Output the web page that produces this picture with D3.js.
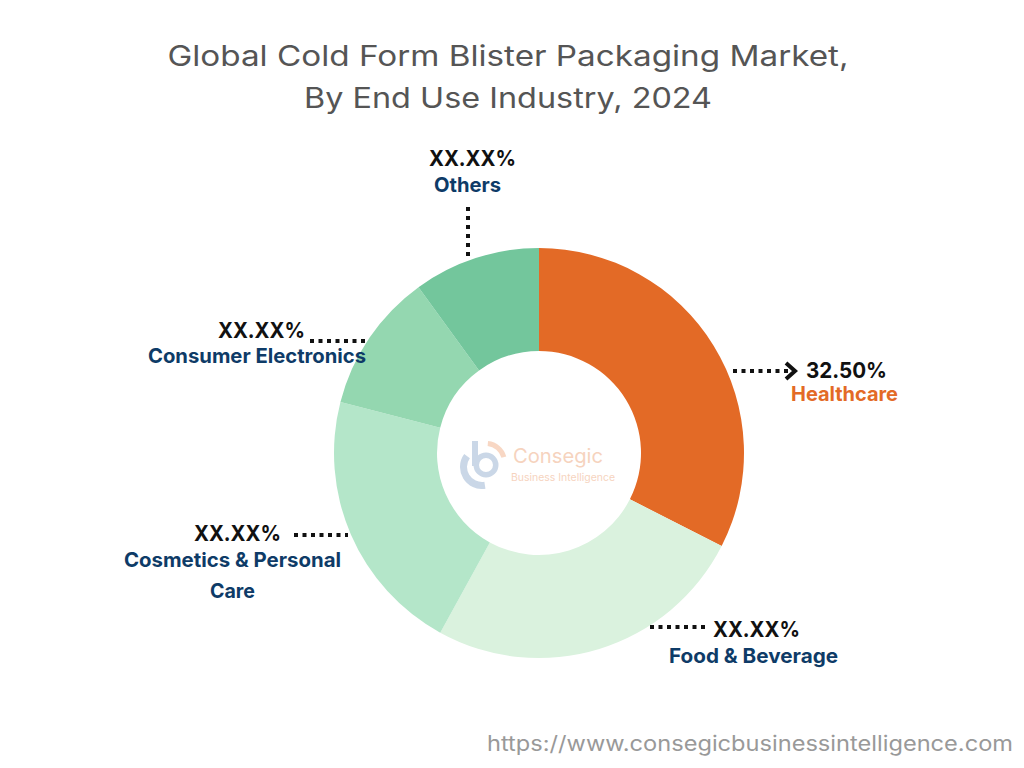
<!DOCTYPE html>
<html><head><meta charset="utf-8">
<script src="https://cdn.jsdelivr.net/npm/d3@7"></script>
<style>body{margin:0;background:#fff}svg{display:block}</style>
</head><body>
<svg id="c" width="1024" height="768"></svg>
<script>
const categories = ["Healthcare", "Food & Beverage", "Cosmetics & Personal Care", "Consumer Electronics", "Others"];
const values = [32.5, 25.5, 21, 11, 10];
const valueLabels = ["32.50%", "XX.XX%", "XX.XX%", "XX.XX%", "XX.XX%"];
const colors = ["#E36A26", "#DAF2DE", "#B4E6C9", "#94D7B0", "#73C69C"];
const titleLines = ["Global Cold Form Blister Packaging Market,", "By End Use Industry, 2024"];
const sourceText = "https://www.consegicbusinessintelligence.com";

const svg = d3.select("#c");
const cx = 539, cy = 453, R = 205, r = 102;

const titleW = [681, 408];
svg.append("g").selectAll("text").data(titleLines).join("text")
  .attr("x", 508).attr("y", (d, i) => 66 + i * 42)
  .attr("text-anchor", "middle").attr("fill", "#555")
  .attr("textLength", (d, i) => titleW[i]).attr("lengthAdjust", "spacingAndGlyphs")
  .style("font-family", "Inter").style("font-size", "28px").text(d => d);

const pie = d3.pie().sort(null).value(d => d);
const arc = d3.arc().innerRadius(r).outerRadius(R);
const g = svg.append("g").attr("transform", `translate(${cx},${cy})`);
g.selectAll("path").data(pie(values)).join("path")
  .attr("d", arc).attr("fill", (d, i) => colors[i]);

// logo (faint)
const logo = svg.append("g").attr("opacity", 0.55);
logo.append("path").attr("d", d3.arc().innerRadius(15).outerRadius(22).startAngle(-Math.PI*1.05).endAngle(-Math.PI*0.3)())
  .attr("transform", "translate(482,467)").attr("fill", "#9fb7d4");
logo.append("path").attr("d", d3.arc().innerRadius(7).outerRadius(12.5).startAngle(0).endAngle(Math.PI*2)())
  .attr("transform", "translate(486,465)").attr("fill", "#9fb7d4");
logo.append("rect").attr("x", 472).attr("y", 441).attr("width", 6).attr("height", 25).attr("fill", "#9fb7d4");
logo.append("path").attr("d", d3.arc().innerRadius(16).outerRadius(21).startAngle(0.1).endAngle(1.3)())
  .attr("transform", "translate(486,462)").attr("fill", "#f3b894");
logo.append("text").attr("x", 513).attr("y", 463).attr("fill", "#f0b08a")
  .attr("textLength", 90).attr("lengthAdjust", "spacingAndGlyphs")
  .style("font-family", "Inter").style("font-size", "20px").text("Consegic");
logo.append("text").attr("x", 511).attr("y", 481).attr("fill", "#f0b08a")
  .attr("textLength", 104).attr("lengthAdjust", "spacingAndGlyphs")
  .style("font-family", "Inter").style("font-size", "10.5px").text("Business Intelligence");

// labels
const dot = (x1, y1, x2, y2) => svg.append("line").attr("x1", x1).attr("y1", y1).attr("x2", x2).attr("y2", y2)
  .attr("stroke", "#111").attr("stroke-width", 4).attr("stroke-dasharray", "4 4.5");
const pct = (x, y, anchor, t, w) => svg.append("text").attr("x", x).attr("y", y).attr("text-anchor", anchor)
  .attr("textLength", w).attr("lengthAdjust", "spacingAndGlyphs")
  .attr("fill", "#111").style("font-family", "Inter").style("font-weight", "700").style("font-size", "22px").text(t);
const cat = (x, y, anchor, t, w, col) => svg.append("text").attr("x", x).attr("y", y).attr("text-anchor", anchor)
  .attr("textLength", w).attr("lengthAdjust", "spacingAndGlyphs")
  .attr("fill", col || "#0E3B67").style("font-family", "Inter").style("font-weight", "700").style("font-size", "20px").text(t);

// Healthcare
dot(733, 371, 790, 371);
svg.append("path").attr("d", "M786,363 L795,371 L786,379").attr("fill", "none").attr("stroke", "#111").attr("stroke-width", 4);
pct(806, 378, "start", valueLabels[0], 81);
cat(791, 401, "start", categories[0], 107, "#E36A26");
// Food & Beverage
dot(650, 627, 705, 627);
pct(713, 637, "start", valueLabels[1], 87);
cat(753.5, 663, "middle", categories[1], 169);
// Cosmetics
dot(294, 535, 348, 535);
pct(281, 541, "end", valueLabels[2], 87);
cat(232.5, 567, "middle", "Cosmetics & Personal", 217);
cat(232.5, 598, "middle", "Care", 45);
// Consumer Electronics
dot(310, 341, 365, 341);
pct(305, 338, "end", valueLabels[3], 87);
cat(366, 363, "end", categories[3], 218);
// Others
dot(468, 207, 468, 259).attr("stroke-dasharray", "4 5");
pct(472.5, 166, "middle", valueLabels[4], 87);
cat(467.5, 192, "middle", categories[4], 67);

svg.append("text").attr("x", 1013).attr("y", 751).attr("text-anchor", "end").attr("fill", "#999")
  .attr("textLength", 526).attr("lengthAdjust", "spacingAndGlyphs")
  .style("font-family", "Inter").style("font-size", "21px").text(sourceText);
</script>
</body></html>
